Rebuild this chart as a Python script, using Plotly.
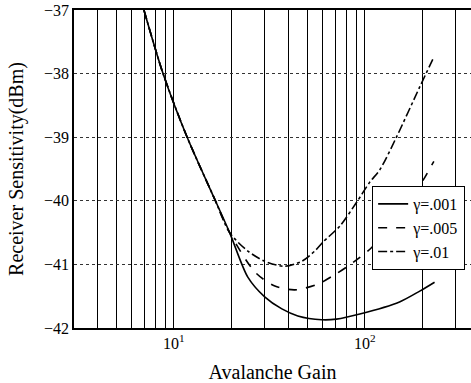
import plotly.graph_objects as go

# Data
gain_001 = [6.97, 8.76, 11.7, 16.4, 19.6, 24.4, 29.9, 36.8, 44.6, 59.5, 71, 94.2, 152, 194, 232]
sens_001 = [-37.0, -37.99, -38.99, -39.98, -40.50, -41.20, -41.51, -41.70, -41.81, -41.87, -41.86, -41.78, -41.59, -41.42, -41.28]

gain_005 = [6.97, 8.76, 11.7, 16.4, 19.6, 26.6, 33.8, 43.0, 56.8, 68, 80.5, 94.2, 109, 150, 196, 230]
sens_005 = [-37.0, -37.99, -38.99, -39.98, -40.50, -41.12, -41.34, -41.40, -41.31, -41.18, -41.04, -40.89, -40.73, -40.22, -39.74, -39.38]

gain_01 = [6.97, 8.76, 11.7, 16.4, 19.6, 24.4, 29.9, 38.1, 46.8, 54.7, 60.3, 73.9, 90.8, 106, 120, 147, 194, 230]
sens_01 = [-37.0, -37.99, -38.99, -39.98, -40.50, -40.79, -40.95, -41.03, -40.95, -40.79, -40.65, -40.40, -40.02, -39.71, -39.51, -38.99, -38.21, -37.74]

labels = ["γ=.001", "γ=.005", "γ=.01"]
dashes = ["solid", "dash", "dashdot"]

x_grid = [3, 4, 5, 6, 7, 8, 9, 10, 20, 30, 40, 50, 60, 70, 80, 90, 100, 200, 300]
x_text = ["10<sup>1</sup>" if v == 10 else ("10<sup>2</sup>" if v == 100 else "") for v in x_grid]
y_ticks = [-42, -41, -40, -39, -38, -37]

FONT = "Liberation Serif, Times New Roman, serif"

fig = go.Figure()
for gx, sy, lab, dsh in [(gain_001, sens_001, labels[0], dashes[0]),
                         (gain_005, sens_005, labels[1], dashes[1]),
                         (gain_01, sens_01, labels[2], dashes[2])]:
    fig.add_trace(go.Scatter(x=gx, y=sy, mode="lines", name=lab,
                             line=dict(color="black", width=1.6, dash=dsh, shape="spline", smoothing=0.8)))

fig.update_layout(
    width=471, height=383,
    margin=dict(l=74, r=0, t=10, b=55, autoexpand=False),
    paper_bgcolor="white", plot_bgcolor="white",
    font=dict(family=FONT, color="black", size=16),
    showlegend=True,
    legend=dict(x=0.751, y=0.4465, xanchor="left", yanchor="top",
                bgcolor="white", bordercolor="black", borderwidth=1,
                font=dict(family=FONT, size=16, color="black"),
                itemwidth=30, tracegroupgap=0),
    xaxis=dict(type="log", range=[0.4771, 2.5563], automargin=False,
               tickvals=x_grid, ticktext=x_text, ticks="",
               showgrid=True, gridcolor="black", gridwidth=1.3,
               showline=True, linecolor="black", linewidth=1.5, mirror=True,
               tickfont=dict(family=FONT, size=16),
               title=dict(text="Avalanche Gain", font=dict(family=FONT, size=20)),
               zeroline=False),
    yaxis=dict(range=[-42, -37], tickvals=y_ticks, ticks="", automargin=False,
               showgrid=True, gridcolor="#333333", gridwidth=1, griddash="dot",
               showline=True, linecolor="black", linewidth=1.5,
               tickfont=dict(family=FONT, size=16),
               title=dict(text="Receiver Sensitivity(dBm)", font=dict(family=FONT, size=20)),
               zeroline=False),
)

fig.write_html("out.html", config={"displayModeBar": False},
               post_script="document.body.style.margin='0';document.body.style.overflow='hidden';")
